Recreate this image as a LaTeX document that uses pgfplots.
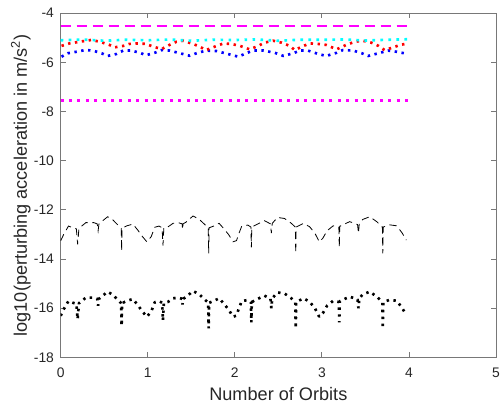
\documentclass[border=0pt]{standalone}
\usepackage{fontspec}
\setmainfont{Liberation Sans}
\usepackage{pgfplots}
\usepackage{pgfplotstable}
\pgfplotsset{compat=1.18}
\definecolor{axgray}{RGB}{120,120,120}
\definecolor{txt}{RGB}{38,38,38}
\definecolor{mmag}{RGB}{255,0,255}
\definecolor{mcyan}{RGB}{0,255,255}
\definecolor{mred}{RGB}{255,0,0}
\definecolor{mblue}{RGB}{0,0,255}

\pgfplotstableread{
x y
0.00 -16.31
0.04 -16.01
0.09 -15.71
0.14 -15.78
0.18 -15.82
0.195 -16.45
0.21 -15.80
0.29 -15.57
0.38 -15.57
0.42 -15.62
0.43 -15.90
0.44 -15.62
0.48 -15.50
0.54 -15.33
0.60 -15.46
0.66 -15.68
0.695 -15.80
0.70 -16.72
0.705 -15.80
0.76 -15.70
0.83 -15.63
0.885 -15.87
0.94 -16.14
0.99 -16.35
1.04 -16.14
1.08 -15.76
1.13 -15.71
1.165 -15.78
1.175 -16.50
1.185 -15.78
1.23 -15.75
1.29 -15.60
1.35 -15.57
1.395 -15.62
1.40 -15.85
1.405 -15.62
1.44 -15.55
1.52 -15.30
1.59 -15.43
1.65 -15.63
1.695 -15.78
1.70 -16.82
1.705 -15.78
1.75 -15.72
1.82 -15.60
1.87 -15.80
1.93 -16.06
1.98 -16.35
2.02 -16.30
2.04 -16.08
2.08 -15.71
2.15 -15.67
2.185 -15.75
2.19 -16.58
2.195 -15.75
2.26 -15.63
2.34 -15.49
2.41 -15.62
2.42 -16.00
2.43 -15.60
2.49 -15.36
2.57 -15.40
2.65 -15.60
2.695 -15.75
2.70 -16.82
2.705 -15.75
2.79 -15.60
2.86 -15.74
2.92 -16.00
2.97 -16.35
3.01 -16.21
3.06 -15.90
3.13 -15.70
3.195 -15.75
3.20 -16.58
3.205 -15.72
3.24 -15.66
3.32 -15.53
3.41 -15.65
3.42 -16.00
3.43 -15.60
3.47 -15.44
3.55 -15.33
3.63 -15.53
3.695 -15.75
3.70 -16.82
3.705 -15.75
3.78 -15.66
3.86 -15.70
3.92 -15.98
3.97 -16.28
}\blackdotted

\pgfplotstableread{
x y
0.00 -13.26
0.04 -12.96
0.09 -12.66
0.14 -12.73
0.18 -12.77
0.195 -13.40
0.21 -12.75
0.29 -12.52
0.38 -12.52
0.42 -12.57
0.43 -12.85
0.44 -12.57
0.48 -12.45
0.54 -12.28
0.60 -12.41
0.66 -12.63
0.695 -12.75
0.70 -13.67
0.705 -12.75
0.76 -12.65
0.83 -12.58
0.885 -12.82
0.94 -13.09
0.99 -13.30
1.04 -13.09
1.08 -12.71
1.13 -12.66
1.165 -12.73
1.175 -13.45
1.185 -12.73
1.23 -12.70
1.29 -12.55
1.35 -12.52
1.395 -12.57
1.40 -12.80
1.405 -12.57
1.44 -12.50
1.52 -12.25
1.59 -12.38
1.65 -12.58
1.695 -12.73
1.70 -13.77
1.705 -12.73
1.75 -12.67
1.82 -12.55
1.87 -12.75
1.93 -13.01
1.98 -13.30
2.02 -13.25
2.04 -13.03
2.08 -12.66
2.15 -12.62
2.185 -12.70
2.19 -13.53
2.195 -12.70
2.26 -12.58
2.34 -12.44
2.41 -12.57
2.42 -12.95
2.43 -12.55
2.49 -12.31
2.57 -12.35
2.65 -12.55
2.695 -12.70
2.70 -13.77
2.705 -12.70
2.79 -12.55
2.86 -12.69
2.92 -12.95
2.97 -13.30
3.01 -13.16
3.06 -12.85
3.13 -12.65
3.195 -12.70
3.20 -13.53
3.205 -12.67
3.24 -12.61
3.32 -12.48
3.41 -12.60
3.42 -12.95
3.43 -12.55
3.47 -12.39
3.55 -12.28
3.63 -12.48
3.695 -12.70
3.70 -13.77
3.705 -12.70
3.78 -12.61
3.86 -12.65
3.92 -12.93
3.97 -13.23
}\blackdashed

\pgfplotstableread{
x y
0.01 -5.33
0.10 -5.23
0.22 -5.16
0.35 -5.09
0.45 -5.16
0.56 -5.29
0.62 -5.39
0.72 -5.33
0.79 -5.25
0.89 -5.23
0.98 -5.25
1.06 -5.36
1.16 -5.46
1.25 -5.29
1.33 -5.16
1.41 -5.12
1.50 -5.23
1.58 -5.33
1.67 -5.50
1.77 -5.36
1.87 -5.23
1.96 -5.25
2.06 -5.33
2.17 -5.47
2.27 -5.33
2.34 -5.20
2.44 -5.12
2.54 -5.20
2.63 -5.33
2.69 -5.50
2.77 -5.36
2.86 -5.23
2.96 -5.25
3.05 -5.29
3.17 -5.47
3.28 -5.29
3.38 -5.16
3.47 -5.12
3.57 -5.20
3.65 -5.33
3.72 -5.50
3.82 -5.39
3.90 -5.29
3.99 -5.23
}\reddata

\pgfplotstableread{
x y
0.01 -5.77
0.08 -5.63
0.18 -5.57
0.28 -5.50
0.37 -5.52
0.47 -5.63
0.54 -5.74
0.64 -5.66
0.72 -5.52
0.81 -5.52
0.91 -5.61
0.98 -5.71
1.08 -5.61
1.16 -5.50
1.25 -5.52
1.37 -5.63
1.48 -5.73
1.56 -5.63
1.67 -5.52
1.79 -5.54
1.92 -5.66
2.04 -5.77
2.13 -5.63
2.21 -5.52
2.33 -5.52
2.46 -5.61
2.56 -5.74
2.67 -5.63
2.75 -5.52
2.84 -5.52
2.96 -5.66
3.05 -5.74
3.17 -5.61
3.24 -5.50
3.36 -5.52
3.46 -5.63
3.53 -5.74
3.65 -5.63
3.76 -5.52
3.86 -5.57
3.99 -5.66
}\bluedata

\pgfplotstableread{
x y
0.00 -5.10
0.25 -5.07
0.50 -5.12
0.75 -5.08
1.00 -5.10
1.25 -5.07
1.50 -5.12
1.75 -5.08
2.00 -5.09
2.25 -5.07
2.50 -5.12
2.75 -5.08
3.00 -5.08
3.25 -5.07
3.50 -5.11
3.75 -5.08
4.00 -5.06
}\cyandata

\begin{document}
\begin{tikzpicture}
\path[use as bounding box] (-45.5pt,-37.3pt) rectangle (329.5pt,268pt);
\begin{axis}[
  at={(0,0)}, anchor=south west,
  scale only axis, width=326.5pt, height=258.1pt,
  xmin=0, xmax=5, ymin=-18, ymax=-4,
  xtick={0,1,2,3,4,5}, ytick={-18,-16,-14,-12,-10,-8,-6,-4},
  tick align=inside, major tick length=3.75pt,
  axis line style={axgray, line width=0.6pt},
  tick style={axgray, line width=0.6pt},
  /pgf/number format/assume math mode=true,
  ticklabel style={font=\fontsize{10.4}{12}\selectfont, text=txt},
  xticklabel style={yshift=-4.5pt},
  yticklabel style={xshift=-1.5pt},
  xlabel={Number of Orbits},
  ylabel={log10(perturbing acceleration in m/s\textsuperscript{2})},
  label style={font=\fontsize{13.6}{16}\selectfont, text=txt},
  xlabel style={at={(axis description cs:0.5,-0.124)}, anchor=base},
  ylabel style={at={(axis description cs:-0.0775,0.5)}, anchor=base},
]
\addplot[draw=mmag, color=mmag, line width=0.85pt, dash pattern=on 7.5pt off 4.5pt] table[x=x,y=y] {
x y
0 -4.52
4 -4.52
};
\addplot[mblue, line width=2pt, dash pattern=on 1.8pt off 3.4pt, line join=bevel] table[x=x,y=y] {\bluedata};
\addplot[mred, line width=2pt, dash pattern=on 1.8pt off 3.4pt, line join=bevel] table[x=x,y=y] {\reddata};
\addplot[mcyan, line width=2pt, dash pattern=on 2pt off 4pt, line join=bevel] table[x=x,y=y] {\cyandata};
\addplot[mmag, line width=2.2pt, dash pattern=on 2.2pt off 4.1pt] coordinates {(0,-7.57) (4,-7.57)};
\addplot[black, line width=0.6pt, dash pattern=on 5.5pt off 3.5pt] table[x=x,y=y] {\blackdashed};
\addplot[black, line width=2pt, dash pattern=on 1.8pt off 3.4pt, line join=bevel] table[x=x,y=y] {\blackdotted};
\end{axis}
\end{tikzpicture}
\end{document}
